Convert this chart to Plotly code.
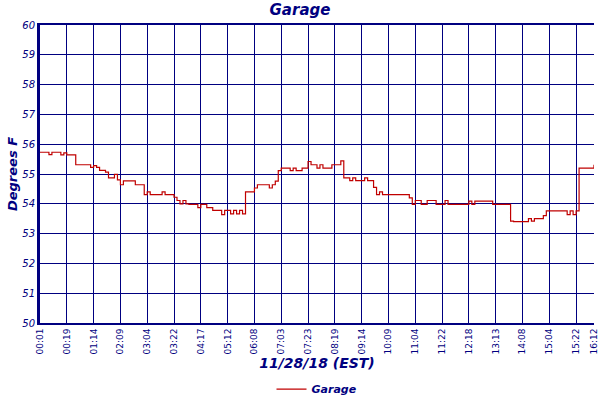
import plotly.graph_objects as go

# Garage temperature log, one reading per sample (11/28/18)
tick_labels = ["00:01", "00:19", "01:14", "02:09", "03:04", "03:22", "04:17", "05:12",
               "06:08", "07:03", "07:23", "08:19", "09:14", "10:09", "11:04", "11:22",
               "12:18", "13:13", "14:08", "15:04", "15:22", "16:12"]
tick_samples = [0, 9, 18, 27, 36, 45, 54, 63, 72, 81, 90, 99, 108, 117, 126, 135,
                144, 153, 162, 171, 180, 186]

temps = [
    55.73, 55.73, 55.73, 55.65, 55.73, 55.73, 55.73, 55.64, 55.71,
    55.64, 55.64, 55.64, 55.31, 55.31, 55.31, 55.31, 55.31, 55.22,
    55.28, 55.22, 55.12, 55.12, 55.06, 54.87, 54.87, 54.99, 54.80,
    54.64, 54.77, 54.77, 54.77, 54.77, 54.64, 54.64, 54.64, 54.31,
    54.40, 54.31, 54.31, 54.31, 54.31, 54.40, 54.31, 54.31, 54.31,
    54.22, 54.11, 54.00, 54.11, 54.00, 53.98, 53.98, 53.98, 53.87,
    53.98, 53.98, 53.87, 53.87, 53.78, 53.78, 53.78, 53.64, 53.78,
    53.78, 53.66, 53.78, 53.66, 53.78, 53.66, 54.40, 54.40, 54.40,
    54.53, 54.64, 54.64, 54.64, 54.64, 54.53, 54.64, 54.76, 55.11,
    55.20, 55.20, 55.20, 55.11, 55.20, 55.11, 55.11, 55.20, 55.20,
    55.42, 55.31, 55.31, 55.20, 55.31, 55.20, 55.20, 55.20, 55.31,
    55.31, 55.31, 55.44, 54.87, 54.87, 54.78, 54.87, 54.78, 54.78,
    54.78, 54.87, 54.78, 54.78, 54.55, 54.31, 54.40, 54.31, 54.31,
    54.31, 54.31, 54.31, 54.31, 54.31, 54.31, 54.31, 54.20, 53.98,
    54.11, 54.11, 53.98, 53.98, 54.11, 54.11, 54.11, 53.98, 53.98,
    53.98, 54.11, 53.98, 53.98, 53.98, 53.98, 53.98, 53.98, 53.98,
    54.09, 53.98, 54.09, 54.09, 54.09, 54.09, 54.09, 54.09, 53.98,
    53.98, 53.98, 53.98, 53.98, 53.98, 53.42, 53.40, 53.40, 53.40,
    53.40, 53.40, 53.50, 53.42, 53.50, 53.50, 53.50, 53.60, 53.76,
    53.76, 53.76, 53.76, 53.76, 53.76, 53.76, 53.64, 53.76, 53.64,
    53.76, 55.20, 55.20, 55.20, 55.20, 55.20, 55.31,
]
y_ticks = list(range(50, 61))

NAVY = "#000080"
RED = "#c00000"

fig = go.Figure()
fig.add_trace(go.Scatter(
    x=list(range(len(temps))), y=temps, mode="lines", name="Garage",
    line=dict(color=RED, width=1.2, shape="hv"),
))

fig.update_layout(
    width=600, height=400,
    margin=dict(l=40, r=6, t=25, b=77, autoexpand=False),
    paper_bgcolor="white", plot_bgcolor="white",
    title=dict(text="Garage", x=0.5, xanchor="center", y=0.975, yanchor="middle",
               automargin=False,
               font=dict(family="DejaVu Sans", size=15, color=NAVY, weight="bold", style="italic")),
    showlegend=True,
    legend=dict(orientation="h", x=0.5, xanchor="center", y=-0.222, yanchor="middle",
                font=dict(family="DejaVu Sans", size=11, color=NAVY, weight="bold", style="italic")),
)

fig.update_xaxes(
    range=[0, len(temps) - 0.99],
    tickmode="array", tickvals=tick_samples, ticktext=tick_labels,
    tickangle=-90, tickfont=dict(family="DejaVu Sans", size=9, color=NAVY),
    ticklabeloverflow="allow",
    showgrid=True, gridcolor=NAVY, gridwidth=1,
    showline=True, linecolor=NAVY, linewidth=2, mirror=True,
    ticks="", zeroline=False, automargin=False,
    title=dict(text="11/28/18 (EST)", standoff=4,
               font=dict(family="DejaVu Sans", size=14, color=NAVY, weight="bold", style="italic")),
)
fig.update_yaxes(
    range=[50, 60],
    tickmode="array", tickvals=y_ticks,
    tickfont=dict(family="DejaVu Sans", size=10, color=NAVY, style="italic"),
    showgrid=True, gridcolor=NAVY, gridwidth=1,
    showline=True, linecolor=NAVY, linewidth=3, mirror=False,
    ticks="", zeroline=False, automargin=False,
    title=dict(text="Degrees F", standoff=2,
               font=dict(family="DejaVu Sans", size=13, color=NAVY, weight="bold", style="italic")),
)

# page body has a default 8px margin; drop it so the 600x400 figure fills the window
fig.write_html("out.html", config={"displayModeBar": False},
               post_script="document.body.style.margin = '0';")
